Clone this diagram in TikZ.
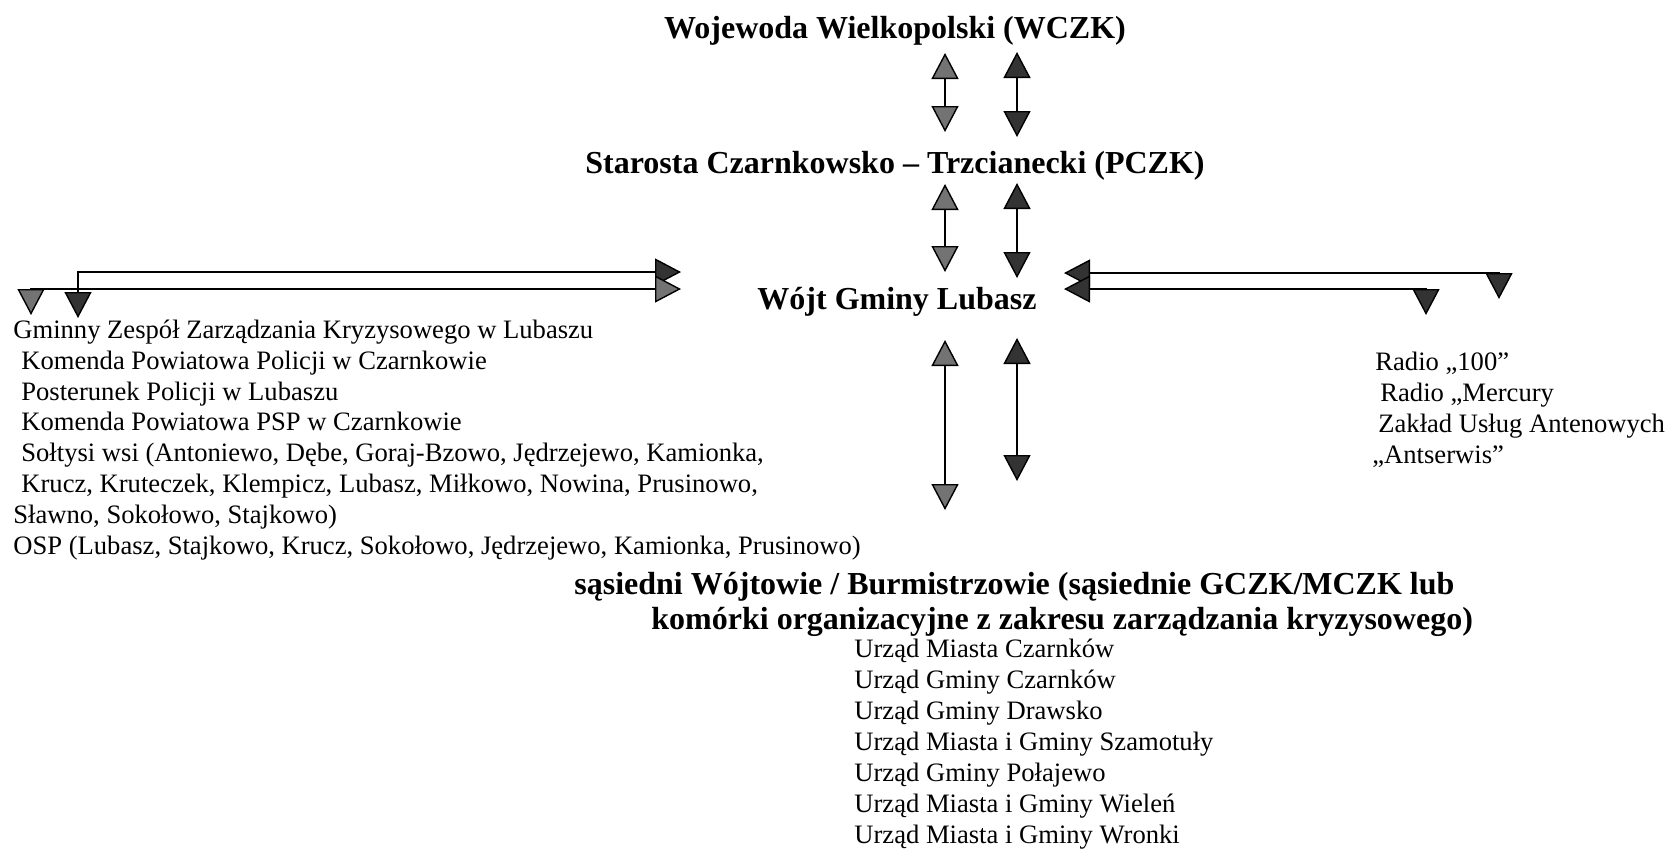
\documentclass[tikz,border=0pt]{standalone}
\usepackage{fontspec}
\setmainfont{Liberation Serif}
\usetikzlibrary{arrows.meta}
\tikzset{
  tiplite/.tip={Triangle[width=13.5pt,length=13pt,fill=black!55]},
  tipdark/.tip={Triangle[width=13.5pt,length=13pt,fill=black!80]},
  head/.style={font=\bfseries\fontsize{16}{17.5}\selectfont, inner sep=0pt},
  names/.style={font=\fontsize{13.3}{15.4}\selectfont, align=left, inner sep=0pt, anchor=base west},
  link/.style={draw=black, line width=0.7pt},
}
\begin{document}
\begin{tikzpicture}[x=0.5pt,y=-0.5pt]
\useasboundingbox (0,0) rectangle (1668,848);
% levels
\draw (895,38) node[head, anchor=base](W){Wojewoda Wielkopolski (WCZK)}
(895,173) node[head, anchor=base](S){Starosta Czarnkowsko -- Trzcianecki (PCZK)}
(897,309) node[head, anchor=base](L){Wójt Gminy Lubasz}
(574,629) node[head, align=left, anchor=base west](N){sąsiedni Wójtowie / Burmistrzowie (sąsiednie GCZK/MCZK lub\\
\hspace*{38.5pt}komórki organizacyjne z zakresu zarządzania kryzysowego)};
% lists (base = last line)
\draw (13,554) node[names](G){Gminny Zespół Zarządzania Kryzysowego w Lubaszu\\
\hspace*{4pt}Komenda Powiatowa Policji w Czarnkowie\\
\hspace*{4pt}Posterunek Policji w Lubaszu\\
\hspace*{4pt}Komenda Powiatowa PSP w Czarnkowie\\
\hspace*{4pt}Sołtysi wsi (Antoniewo, Dębe, Goraj-Bzowo, Jędrzejewo, Kamionka,\\
\hspace*{4pt}Krucz, Kruteczek, Klempicz, Lubasz, Miłkowo, Nowina, Prusinowo,\\
Sławno, Sokołowo, Stajkowo)\\
OSP (Lubasz, Stajkowo, Krucz, Sokołowo, Jędrzejewo, Kamionka, Prusinowo)}
(1372,463) node[names](R){\hspace*{1.5pt}Radio „100”\\
\hspace*{4pt}Radio „Mercury\\
\hspace*{3pt}Zakład Usług Antenowych\\
„Antserwis”}
(854,843) node[names, font=\fontsize{13.3}{15.5}\selectfont](U){Urząd Miasta Czarnków\\
Urząd Gminy Czarnków\\
Urząd Gminy Drawsko\\
Urząd Miasta i Gminy Szamotuły\\
Urząd Gminy Połajewo\\
Urząd Miasta i Gminy Wieleń\\
Urząd Miasta i Gminy Wronki};
% arrow ends
\coordinate (ws1) at (945,53);  \coordinate (sw1) at (945,132);
\coordinate (ws2) at (1017,52); \coordinate (sw2) at (1017,137);
\coordinate (sl1) at (945,184); \coordinate (ls1) at (945,272);
\coordinate (sl2) at (1017,183); \coordinate (ls2) at (1017,278);
\coordinate (ln1) at (945,340); \coordinate (nl1) at (945,510);
\coordinate (ln2) at (1017,338); \coordinate (nl2) at (1017,481);
\coordinate (lg1) at (681,272); \coordinate (gl1) at (78,318);
\coordinate (lg2) at (681,289); \coordinate (gl2) at (31,315);
\coordinate (lr1) at (1064,273); \coordinate (rl1) at (1499,299);
\coordinate (lr2) at (1064,289); \coordinate (rl2) at (1426,315);
% up and down
\draw [link] [tiplite-tiplite] (ws1)--(sw1);
\draw [link] [tipdark-tipdark] (ws2)--(sw2);
\draw [link] [tiplite-tiplite] (sl1)--(ls1);
\draw [link] [tipdark-tipdark] (sl2)--(ls2);
\draw [link] [tiplite-tiplite] (ln1)--(nl1);
\draw [link] [tipdark-tipdark] (ln2)--(nl2);
% to the sides
\draw [link] [tipdark-tipdark] (lg1)--(gl1|-lg1)--(gl1);
\draw [link] [tiplite-tiplite] (lg2)--(gl2|-lg2)--(gl2);
\draw [link] [tipdark-tipdark] (lr1)--(rl1|-lr1)--(rl1);
\draw [link] [tipdark-tipdark] (lr2)--(rl2|-lr2)--(rl2);
\end{tikzpicture}
\end{document}
